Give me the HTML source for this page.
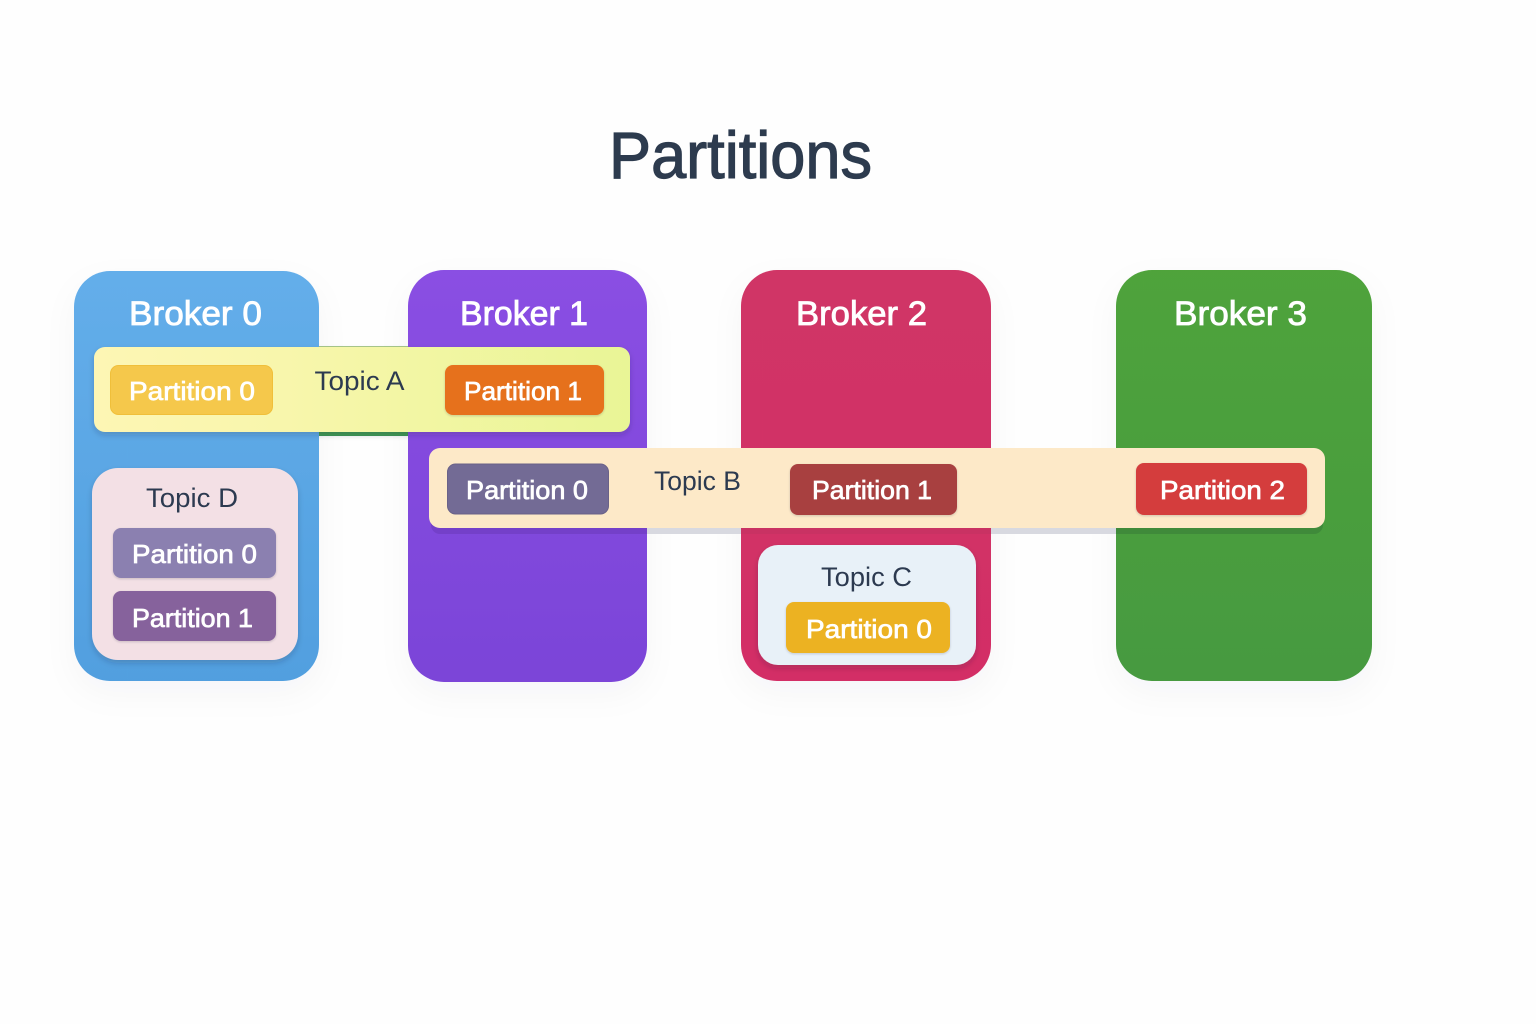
<!DOCTYPE html>
<html><head><meta charset="utf-8"><title>Partitions</title>
<style>html,body{margin:0;padding:0;background:#fefefe}svg{display:block}text{font-family:"Liberation Sans",sans-serif;text-anchor:start}
.w{fill:#fff;stroke:#fff;stroke-width:.7;font-size:26px}.b{fill:#fff;stroke:#fff;stroke-width:.8;font-size:34px}.t{fill:#2c3a50;font-size:27px}</style></head>
<body>
<svg width="1536" height="1024" viewBox="0 0 1536 1024" xmlns="http://www.w3.org/2000/svg">
<defs>
<linearGradient id="g0" x1="0" y1="0" x2="0" y2="1"><stop offset="0" stop-color="#64aeea"/><stop offset="1" stop-color="#519fdf"/></linearGradient>
<linearGradient id="g1" x1="0" y1="0" x2="0" y2="1"><stop offset="0" stop-color="#8a4fe3"/><stop offset="1" stop-color="#7b44d8"/></linearGradient>
<linearGradient id="g2" x1="0" y1="0" x2="0" y2="1"><stop offset="0" stop-color="#d03566"/><stop offset="1" stop-color="#d32e66"/></linearGradient>
<linearGradient id="g3" x1="0" y1="0" x2="0" y2="1"><stop offset="0" stop-color="#4fa33b"/><stop offset="1" stop-color="#469a40"/></linearGradient>
<linearGradient id="ta" x1="0" y1="0" x2="1" y2="0"><stop offset="0" stop-color="#fdf6b4"/><stop offset=".35" stop-color="#f8f6ac"/><stop offset="1" stop-color="#e9f596"/></linearGradient>
<filter id="s" x="-25%" y="-20%" width="150%" height="145%"><feDropShadow dx="0" dy="12" stdDeviation="16" flood-color="#334" flood-opacity=".035"/></filter>
<filter id="s2" x="-10%" y="-20%" width="120%" height="150%"><feDropShadow dx="0" dy="3" stdDeviation="3" flood-color="#223" flood-opacity=".2"/></filter>
<filter id="s3" x="-10%" y="-10%" width="120%" height="130%"><feDropShadow dx="0" dy="1" stdDeviation="1" flood-color="#223" flood-opacity=".2"/></filter>
<clipPath id="c"><rect x="431" y="515" width="892" height="19" rx="9"/></clipPath>
</defs>
<rect width="1536" height="1024" fill="#fefefe"/>
<text x="609" y="178" font-size="66" fill="#2d3b4e" stroke="#2d3b4e" stroke-width="1.2" textLength="263" lengthAdjust="spacingAndGlyphs">Partitions</text>

<rect x="319" y="346" width="90" height="90" fill="#3f9a55"/>
<rect x="319" y="346" width="90" height="4" fill="#a9c98c"/>

<rect x="74" y="271" width="245" height="410" rx="36" fill="url(#g0)" filter="url(#s)"/>
<rect x="408" y="270" width="239" height="412" rx="36" fill="url(#g1)" filter="url(#s)"/>
<rect x="741" y="270" width="250" height="411" rx="36" fill="url(#g2)" filter="url(#s)"/>
<rect x="1116" y="270" width="256" height="411" rx="36" fill="url(#g3)" filter="url(#s)"/>

<g clip-path="url(#c)">
<rect x="647" y="515" width="94" height="19" fill="#d8d9e0"/>
<rect x="991" y="515" width="125" height="19" fill="#d8d9e0"/>
<rect x="429" y="515" width="218" height="19" fill="#7440c9"/>
<rect x="741" y="515" width="250" height="19" fill="#c93263"/>
<rect x="1116" y="515" width="210" height="19" fill="#3f8a3a"/>
</g>

<text class="b" x="129" y="325" textLength="133" lengthAdjust="spacingAndGlyphs">Broker 0</text>
<text class="b" x="460" y="325" textLength="128" lengthAdjust="spacingAndGlyphs">Broker 1</text>
<text class="b" x="796" y="325" textLength="131" lengthAdjust="spacingAndGlyphs">Broker 2</text>
<text class="b" x="1174" y="325" textLength="133" lengthAdjust="spacingAndGlyphs">Broker 3</text>

<rect x="94" y="347" width="536" height="85" rx="11" fill="url(#ta)" filter="url(#s2)"/>
<rect x="110.500" y="365.500" width="162" height="49" rx="8" fill="#f5c84b" stroke="#f0bf3a"/>
<text class="w" x="129" y="400" textLength="126" lengthAdjust="spacingAndGlyphs">Partition 0</text>
<text class="t" x="314.500" y="390" textLength="90" lengthAdjust="spacingAndGlyphs">Topic A</text>
<rect x="445" y="365" width="159" height="50" rx="8" fill="#e6711e" filter="url(#s3)"/>
<text class="w" x="464" y="400" textLength="118" lengthAdjust="spacingAndGlyphs">Partition 1</text>

<rect x="429" y="448" width="896" height="80" rx="11" fill="#fde9c8"/>
<rect x="447.500" y="464" width="161" height="50" rx="8" fill="#736b95" stroke="#6a6288"/>
<text class="w" x="466" y="499" textLength="122" lengthAdjust="spacingAndGlyphs">Partition 0</text>
<text class="t" x="654" y="490" textLength="87" lengthAdjust="spacingAndGlyphs">Topic B</text>
<rect x="790" y="464" width="167" height="51" rx="8" fill="#a84040" filter="url(#s3)"/>
<text class="w" x="812" y="499" textLength="120" lengthAdjust="spacingAndGlyphs">Partition 1</text>
<rect x="1136" y="463" width="171" height="52" rx="8" fill="#d43c3c" filter="url(#s3)"/>
<text class="w" x="1160" y="499" textLength="125" lengthAdjust="spacingAndGlyphs">Partition 2</text>

<rect x="92" y="468" width="206" height="192" rx="26" fill="#f3e0e5" filter="url(#s2)"/>
<text class="t" x="146" y="507" textLength="92" lengthAdjust="spacingAndGlyphs">Topic D</text>
<rect x="113" y="528" width="163" height="50" rx="8" fill="#8b80b0" filter="url(#s3)"/>
<text class="w" x="132" y="563" textLength="125" lengthAdjust="spacingAndGlyphs">Partition 0</text>
<rect x="113" y="591" width="163" height="50" rx="8" fill="#86629c" filter="url(#s3)"/>
<text class="w" x="132" y="627" textLength="121" lengthAdjust="spacingAndGlyphs">Partition 1</text>

<rect x="758" y="545" width="218" height="120" rx="20" fill="#e8f1f8" filter="url(#s2)"/>
<text class="t" x="821" y="586" textLength="91" lengthAdjust="spacingAndGlyphs">Topic C</text>
<rect x="786" y="602" width="164" height="51" rx="8" fill="#ecb224" filter="url(#s3)"/>
<text class="w" x="806" y="638" textLength="126" lengthAdjust="spacingAndGlyphs">Partition 0</text>
</svg>
</body></html>
